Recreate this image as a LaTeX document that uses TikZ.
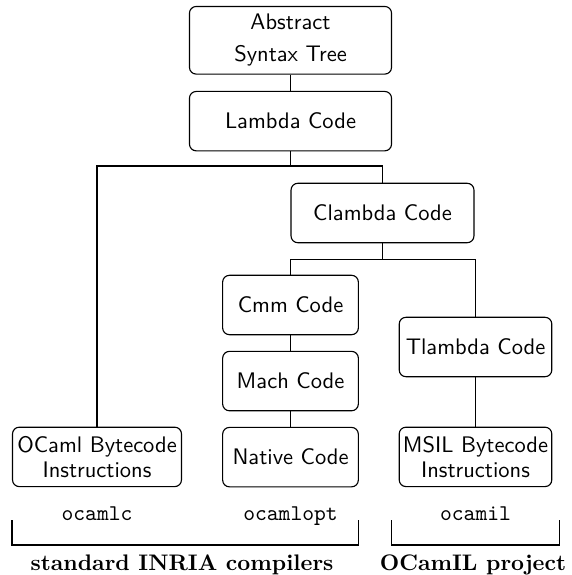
\documentclass[tikz,border=0pt]{standalone}
\usepackage{tikz}
\usetikzlibrary{positioning}
\tikzstyle{stage} = [draw=black, line width=0.5pt, rounded corners=3pt, align=center, font=\sffamily, minimum height=26.4pt, inner xsep=1pt]
\tikzstyle{tool} = [font=\ttfamily, anchor=base]
\tikzstyle{group} = [font=\bfseries, anchor=base]
\tikzstyle{link} = [line width=0.5pt]

\begin{document}
\begin{tikzpicture}[x=0.4444pt, y=-0.4444pt]
  \useasboundingbox (0,0) rectangle (571,575);

  % front end
  \node[stage, minimum width=89.8pt, minimum height=29.3pt] (ast) at (290.5,40.3) {Abstract\\[2.4pt]Syntax Tree};
  \node[stage, minimum width=89.8pt, below=7.2pt of ast] (lambda) {Lambda Code};
  \node[stage, minimum width=81.3pt] (clambda) at (382.5,213) {Clambda Code};

  % back ends
  \node[stage, minimum width=75.1pt] (ocamlbc) at (97,456.9) {OCaml Bytecode\\[-0.9pt]Instructions};
  \node[stage, minimum width=60.3pt] (cmm) at (290.5,305) {Cmm Code};
  \node[stage, minimum width=60.3pt, below=6.9pt of cmm] (mach) {Mach Code};
  \node[stage, minimum width=60.3pt, below=6.9pt of mach] (native) {Native Code};
  \node[stage, minimum width=67.8pt] (tlambda) at (475.5,347) {Tlambda Code};
  \node[stage, minimum width=67.8pt] (msil) at (475.5,456.9) {MSIL Bytecode\\[-0.9pt]Instructions};

  \coordinate (fork1) at (290.5,166);
  \coordinate (fork2) at (382.5,259.3);
  \draw[link] (ast) -- (lambda);
  \draw[link] (lambda) -- (fork1) -| (ocamlbc);
  \draw[link] (fork1) -| (clambda);
  \draw[link] (clambda) -- (fork2) -| (cmm);
  \draw[link] (fork2) -| (tlambda);
  \draw[link] (cmm) -- (mach);
  \draw[link] (mach) -- (native);
  \draw[link] (tlambda) -- (msil);

  % compilers
  \node[tool] (ocamlc) at (97,520) {ocamlc};
  \node[tool] (ocamlopt) at (290.5,520) {ocamlopt};
  \node[tool] (ocamil) at (475.5,520) {ocamil};

  \draw[link] (ocamlbc.west |- 0,520) -- (ocamlbc.west |- 0,545) -| (native.east |- 0,520);
  \draw[link] (391.7,520) -- (391.7,545) -| (559.3,520);

  \node[group] (inria) at (182,570) {standard INRIA compilers};
  \node[group] (ocamilproj) at (473,570) {OCamIL project};
\end{tikzpicture}
\end{document}
